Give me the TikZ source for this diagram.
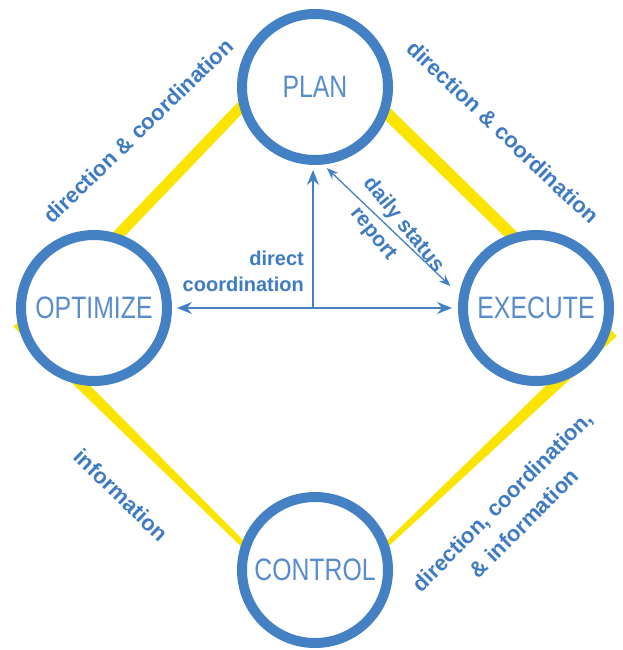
\documentclass[tikz,border=0pt]{standalone}
\usepackage{fontspec}
\setmainfont{Liberation Sans}
\newfontfamily\narrowfont[FakeStretch=0.8]{Liberation Sans}
\usetikzlibrary{arrows.meta,calc}
\definecolor{cblue}{RGB}{68,129,196}
\definecolor{tblue}{RGB}{88,140,204}
\definecolor{lblue}{RGB}{62,123,194}
\definecolor{yel}{RGB}{250,228,0}
\newcommand{\taperline}[4]{\fill[yel] ($(#1)!#3!90:(#2)$) -- ($(#1)!#3!-90:(#2)$) -- ($(#2)!#4!90:(#1)$) -- ($(#2)!#4!-90:(#1)$) -- cycle;}
\tikzset{
  bigtip/.tip={Stealth[length=15pt,width=12pt,inset=5pt]},
  smalltip/.tip={Stealth[length=12pt,width=9pt,inset=4pt]}}
\begin{document}
\begin{tikzpicture}[x=1pt,y=-1pt,
  stage/.style={circle,draw=cblue,line width=10pt,fill=white,minimum size=146pt,inner sep=0pt,
    font=\narrowfont\fontsize{31}{31}\selectfont,text=tblue},
  outlabel/.style={font=\bfseries\fontsize{22}{31}\selectfont,text=lblue,inner sep=0pt,align=center},
  inlabel/.style={font=\bfseries\fontsize{20}{26}\selectfont,text=lblue,inner sep=0pt},
  bigarrow/.style={draw=cblue,line width=2pt},
  thinarrow/.style={draw=cblue,line width=1.3pt}]
\path[use as bounding box,fill=white] (0,0) rectangle (623,650);
% yellow links
\coordinate (ulA) at (261,86);
\coordinate (ulB) at (99,255);
\coordinate (urA) at (365,92);
\coordinate (urB) at (531,254);
\coordinate (llA) at (18,322);
\coordinate (llB) at (263,564);
\coordinate (lrA) at (612,331);
\coordinate (lrB) at (366,564);
\taperline{ulA}{ulB}{5.5pt}{5.5pt}
\taperline{urA}{urB}{6pt}{6pt}
\taperline{llA}{llB}{6.5pt}{2.6pt}
\taperline{lrA}{lrB}{7pt}{2.2pt}
% stages
\node[stage] (plan) at (315,87) {PLAN};
\node[stage] (optimize) at (94,308) {OPTIMIZE};
\node[stage] (execute) at (536,308) {EXECUTE};
\node[stage] (control) at (315,570) {CONTROL};
% arrows
\coordinate (hub) at (313,308);
\draw[bigarrow,bigtip-bigtip,shorten <=5pt,shorten >=6pt] (optimize.east) -- (execute.west);
\draw[bigarrow,-bigtip,shorten >=5pt] (hub) -- (hub |- plan.south);
\draw[thinarrow,smalltip-smalltip,shorten <=5pt,shorten >=12pt] (plan.-84) -- (execute.170);
% labels
\node[outlabel,rotate=44] (l1) at (138,131) {direction \& coordination};
\node[outlabel,rotate=-43.5] (l2) at (503,132) {direction \& coordination};
\node[outlabel,rotate=-44] (l3) at (121,495) {information};
\node[outlabel,rotate=45] (l4) at (513,512) {direction, coordination,\\ \& information};
\node[inlabel,align=right,anchor=east] (l5) at (304,271) {direct\\coordination};
\node[inlabel,font=\bfseries\fontsize{21}{29}\selectfont,align=center,rotate=-51] (l6) at (392,234) {daily status\\report\hspace*{24pt}};
\end{tikzpicture}
\end{document}
